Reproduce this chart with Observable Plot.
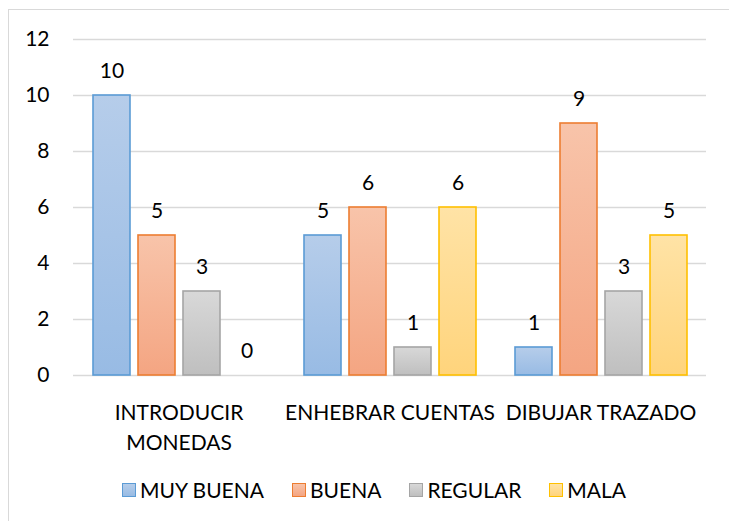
<!DOCTYPE html>
<html>
<head>
<meta charset="utf-8">
<script src="https://cdn.jsdelivr.net/npm/d3@7"></script>
<script src="https://cdn.jsdelivr.net/npm/@observablehq/plot@0.6"></script>
<style>
  html, body { margin: 0; padding: 0; background: #fff; overflow: hidden; }
  body { width: 729px; height: 521px; position: relative; font-family: Lato, "Noto Sans", sans-serif; }
  #frame { position: absolute; left: 8px; top: 9px; width: 740px; height: 530px; border: 1px solid #d9d9d9; box-sizing: border-box; }
  #chart { position: absolute; left: 0; top: 0; }
  #legend { position: absolute; left: 8px; width: 732px; top: 477px; display: flex; justify-content: center; align-items: center; font-size: 21px; color: #000; }
  .item { display: flex; align-items: center; margin: 0 14px; }
  .sw { width: 14px; height: 14px; box-sizing: border-box; border: 1.5px solid; margin-right: 4px; }
</style>
</head>
<body>
<svg width="0" height="0" style="position:absolute">
  <defs id="gdefs"></defs>
</svg>
<div id="frame"></div>
<div id="chart"></div>
<div id="legend"></div>
<script>
// ---- data ----
const groups = ["INTRODUCIR MONEDAS", "ENHEBRAR CUENTAS", "DIBUJAR TRAZADO"];
const groupLabels = ["INTRODUCIR\nMONEDAS", "ENHEBRAR CUENTAS", "DIBUJAR TRAZADO"];
const series = ["MUY BUENA", "BUENA", "REGULAR", "MALA"];
const muyBuena = [10, 5, 1];
const buena = [5, 6, 9];
const regular = [3, 1, 3];
const mala = [0, 6, 5];
const yTicks = [0, 2, 4, 6, 8, 10, 12];

// ---- styles ----
const strokes = ["#5b9bd5", "#ed7d31", "#a5a5a5", "#ffc000"];
const gradTop = ["#b6cdea", "#f8c4aa", "#d8d8d8", "#ffe3a6"];
const gradBot = ["#98bbe4", "#f4a582", "#bfbfbf", "#ffd47c"];

const defs = document.getElementById("gdefs");
series.forEach((s, i) => {
  const ns = "http://www.w3.org/2000/svg";
  const lg = document.createElementNS(ns, "linearGradient");
  lg.setAttribute("id", "g" + i);
  lg.setAttribute("x1", "0"); lg.setAttribute("y1", "0");
  lg.setAttribute("x2", "0"); lg.setAttribute("y2", "1");
  [[0, gradTop[i]], [1, gradBot[i]]].forEach(([o, c]) => {
    const st = document.createElementNS(ns, "stop");
    st.setAttribute("offset", o);
    st.setAttribute("stop-color", c);
    lg.appendChild(st);
  });
  defs.appendChild(lg);
});

const valuesBySeries = [muyBuena, buena, regular, mala];
const rows = [];
groups.forEach((g, gi) => {
  series.forEach((s, si) => {
    rows.push({group: g, series: s, value: valuesBySeries[si][gi]});
  });
});
const labelRows = groups.map((g, i) => ({group: g, label: groupLabels[i]}));

const barMarks = series.map((s, i) =>
  Plot.barY(rows.filter(r => r.series === s && r.value > 0), {
    fx: "group", x: "series", y: "value",
    fill: `url(#g${i})`, stroke: strokes[i], strokeWidth: 1.6
  })
);

const chart = Plot.plot({
  width: 729,
  height: 460,
  marginLeft: 72,
  marginRight: 22,
  marginTop: 39,
  marginBottom: 85,
  style: {fontFamily: "Lato, 'Noto Sans', sans-serif", fontSize: "21px", color: "#000", background: "transparent"},
  fx: {domain: groups, padding: 0, axis: null, label: null},
  x: {domain: series, paddingInner: 0.18, paddingOuter: 0.405, axis: null},
  y: {domain: [0, 12], axis: null},
  marks: [
    Plot.gridY(yTicks, {stroke: "#d9d9d9", strokeOpacity: 1, strokeWidth: 1.4}),
    ...barMarks,
    Plot.axisY(yTicks, {tickSize: 0, tickPadding: 24, fontSize: 21, label: null, fill: "#000"}),
    Plot.text(rows, {fx: "group", x: "series", y: "value", text: d => String(d.value), dy: -24, fontSize: 21, fill: "#000"}),
    Plot.text(labelRows, {fx: "group", text: "label", frameAnchor: "bottom", dy: 24, lineAnchor: "top", lineHeight: 1.4, fontSize: 21, fill: "#000"})
  ]
});
document.getElementById("chart").appendChild(chart);

// legend
const legend = document.getElementById("legend");
series.forEach((s, i) => {
  const item = document.createElement("div");
  item.className = "item";
  const sw = document.createElement("div");
  sw.className = "sw";
  sw.style.borderColor = strokes[i];
  sw.style.background = `linear-gradient(${gradTop[i]}, ${gradBot[i]})`;
  const t = document.createElement("span");
  t.textContent = s;
  item.appendChild(sw);
  item.appendChild(t);
  legend.appendChild(item);
});
</script>
</body>
</html>
